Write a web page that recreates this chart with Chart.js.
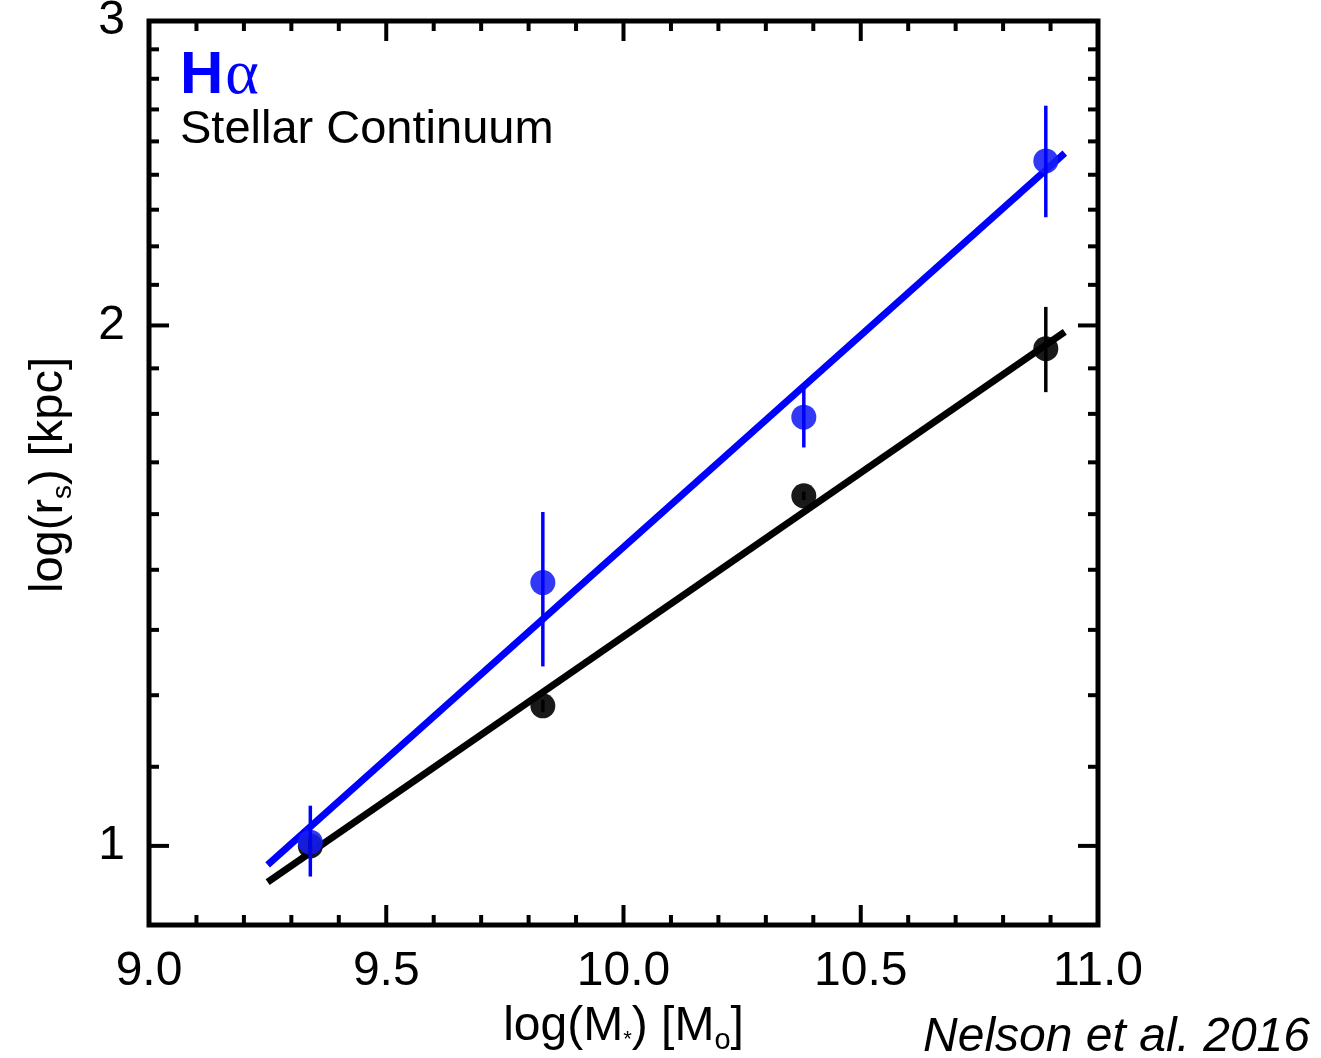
<!DOCTYPE html>
<html>
<head>
<meta charset="utf-8">
<title>Size-mass relation</title>
<script src="https://cdn.jsdelivr.net/npm/chart.js@4.4.1/dist/chart.umd.min.js"></script>
<style>
  html, body { margin: 0; padding: 0; background: #fff; }
  #wrap { width: 1321px; height: 1058px; }
</style>
</head>
<body>
<div id="wrap"><canvas id="chart-1"></canvas></div>
<script>
// stacked-profile sizes per stellar-mass bin
const massBins = [9.34, 9.83, 10.38, 10.89];
const haSize = [1.005, 1.42, 1.77, 2.49];
const haLow = [0.96, 1.27, 1.70, 2.31];
const haHigh = [1.055, 1.56, 1.84, 2.68];
const contSize = [1.0, 1.205, 1.594, 1.939];
const contLow = [0.99, 1.195, 1.585, 1.83];
const contHigh = [1.01, 1.215, 1.603, 2.05];

// power-law fits (end points)
const fitMass = [9.25, 10.93];
const haFit = [0.975, 2.516];
const contFit = [0.953, 1.983];

const xTicks = [9.0, 9.5, 10.0, 10.5, 11.0];
const yTicks = [1, 2, 3];

const FONT = '"Liberation Sans", Arial, Helvetica, sans-serif';
const BLUE = '#0000ff';

function pts(xs, ys) {
  return xs.map((v, i) => ({ x: v, y: ys[i] }));
}

function seg(ctx, x1, y1, x2, y2) {
  ctx.beginPath();
  ctx.moveTo(x1, y1);
  ctx.lineTo(x2, y2);
  ctx.stroke();
}

// vertical error bars, drawn through the scales
const errorBars = {
  id: 'errorBars',
  afterDatasetsDraw(chart) {
    const { ctx, scales: { x, y } } = chart;
    ctx.save();
    ctx.lineWidth = 3.5;
    const draw = (lo, hi, color) => {
      ctx.strokeStyle = color;
      massBins.forEach((m, i) => {
        const px = x.getPixelForValue(m);
        seg(ctx, px, y.getPixelForValue(lo[i]), px, y.getPixelForValue(hi[i]));
      });
    };
    draw(contLow, contHigh, '#000');
    draw(haLow, haHigh, BLUE);
    ctx.restore();
  }
};

// box frame with inward major/minor ticks on all four sides
const frameTicks = {
  id: 'frameTicks',
  afterDraw(chart) {
    const { ctx, chartArea: a, scales: { x, y } } = chart;
    ctx.save();
    ctx.strokeStyle = '#000';
    ctx.lineWidth = 4;
    for (let i = 1; i < 20; i++) {
      const px = x.getPixelForValue(9 + i * 0.1);
      const len = i % 5 === 0 ? 20 : 10;
      seg(ctx, px, a.bottom, px, a.bottom - len);
      seg(ctx, px, a.top, px, a.top + len);
    }
    for (let d = 1; d <= 2; d++) {
      for (let k = 0; k < 9; k++) {
        const v = d + k / 9;
        const py = y.getPixelForValue(v);
        const len = k === 0 ? 20 : 10;
        seg(ctx, a.left, py, a.left + len, py);
        seg(ctx, a.right, py, a.right - len, py);
      }
    }
    ctx.lineWidth = 5;
    ctx.strokeRect(a.left, a.top, a.right - a.left, a.bottom - a.top);
    ctx.restore();
  }
};

// axis titles with subscripts, legend text and credit
const labels = {
  id: 'labels',
  afterDraw(chart) {
    const { ctx, chartArea: a } = chart;
    ctx.save();
    ctx.fillStyle = '#000';
    ctx.textBaseline = 'alphabetic';

    // x title: log(M*) [Mo]
    const big = '48px ' + FONT, small = '22px ' + FONT, smallO = '29px ' + FONT;
    const parts = [
      ['log(M', big, 0], ['*', small, 6], [') [M', big, 0], ['o', smallO, 9], [']', big, 0]
    ];
    let w = 0;
    parts.forEach(p => { ctx.font = p[1]; w += ctx.measureText(p[0]).width; });
    let cx = (a.left + a.right) / 2 - w / 2;
    parts.forEach(p => {
      ctx.font = p[1];
      ctx.fillText(p[0], cx, 1040 + p[2]);
      cx += ctx.measureText(p[0]).width;
    });

    // y title: log(rs) [kpc]
    ctx.save();
    ctx.translate(62, 475);
    ctx.rotate(-Math.PI / 2);
    const yp = [['log(r', '47px ' + FONT, 0], ['s', '28px ' + FONT, 9], [') [kpc]', '47px ' + FONT, 0]];
    w = 0;
    yp.forEach(p => { ctx.font = p[1]; w += ctx.measureText(p[0]).width; });
    cx = -w / 2;
    yp.forEach(p => {
      ctx.font = p[1];
      ctx.fillText(p[0], cx, p[2]);
      cx += ctx.measureText(p[0]).width;
    });
    ctx.restore();

    // legend text
    ctx.fillStyle = BLUE;
    ctx.font = 'bold 60px ' + FONT;
    ctx.fillText('H', 180, 93);
    const hw = ctx.measureText('H').width;
    ctx.font = '64px "Liberation Serif", "DejaVu Serif", serif';
    ctx.fillText('α', 180 + hw + 2, 93);
    ctx.fillStyle = '#000';
    ctx.font = '47px ' + FONT;
    ctx.fillText('Stellar Continuum', 180, 143);

    // credit
    ctx.font = 'italic 48px ' + FONT;
    ctx.textAlign = 'right';
    ctx.fillText('Nelson et al. 2016', 1310, 1051);
    ctx.restore();
  }
};

const ctx1 = document.getElementById('chart-1').getContext('2d');
const sizeChart = new Chart(ctx1, {
  type: 'scatter',
  data: {
    datasets: [
      {
        label: 'Hα',
        data: pts(massBins, haSize),
        pointRadius: 12.5,
        pointHoverRadius: 12.5,
        backgroundColor: 'rgba(20, 30, 245, 0.88)',
        borderWidth: 0
      },
      {
        label: 'Hα fit',
        data: pts(fitMass, haFit),
        showLine: true,
        borderColor: BLUE,
        borderWidth: 7,
        pointRadius: 0
      },
      {
        label: 'Stellar Continuum',
        data: pts(massBins, contSize),
        pointRadius: 12.5,
        pointHoverRadius: 12.5,
        backgroundColor: 'rgba(0, 0, 0, 0.9)',
        borderWidth: 0
      },
      {
        label: 'Stellar Continuum fit',
        data: pts(fitMass, contFit),
        showLine: true,
        borderColor: '#000',
        borderWidth: 7,
        pointRadius: 0
      }
    ]
  },
  options: {
    responsive: true,
    maintainAspectRatio: false,
    animation: false,
    events: [],
    layout: { padding: { left: 0, top: 21, right: 223, bottom: 0 } },
    plugins: {
      legend: { display: false },
      tooltip: { enabled: false }
    },
    scales: {
      x: {
        type: 'linear',
        min: 9,
        max: 11,
        grid: { display: false, drawTicks: false },
        border: { display: false },
        afterBuildTicks(scale) {
          scale.ticks = xTicks.map(v => ({ value: v }));
        },
        afterFit(scale) {
          scale.height = 133;
          scale.paddingLeft = 0;
          scale.paddingRight = 0;
        },
        ticks: {
          color: '#000',
          padding: 18,
          maxRotation: 0,
          font: { family: FONT, size: 48, lineHeight: 1.2 },
          callback: v => Number(v).toFixed(1)
        }
      },
      y: {
        type: 'logarithmic',
        min: 0.9,
        max: 3,
        grid: { display: false, drawTicks: false },
        border: { display: false },
        afterBuildTicks(scale) {
          scale.ticks = yTicks.map(v => ({ value: v }));
        },
        afterFit(scale) {
          scale.width = 149;
          scale.paddingTop = 0;
          scale.paddingBottom = 0;
        },
        ticks: {
          color: '#000',
          padding: 24,
          font: { family: FONT, size: 48, lineHeight: 1.2 },
          callback: v => String(v)
        }
      }
    }
  },
  plugins: [errorBars, frameTicks, labels]
});
</script>
</body>
</html>
